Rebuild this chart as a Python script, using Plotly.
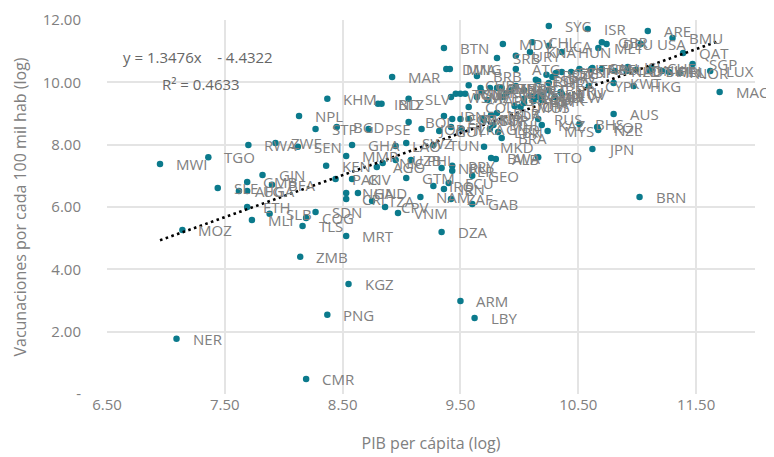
import plotly.graph_objects as go

# ---- data ----
countries = [
 "MWI","TGO","MOZ","NER","SLE","AFG","UGA","GMB","ETH","MLI","GIN","BFA","SLB","TLS","COG","SDN",
 "MRT","ZMB","KGZ","PNG","CMR","RWA","ZWE","SEN","NPL","KHM","STP","BGD","PSE","IND","BLZ","MAR",
 "SLV","BOL","BTN","DMA","MNG","GHA","MMR","KEN","LAO","SWZ","TUN","JOR","PAK","CIV","NGA","HND",
 "CRI","TZA","CPV","VNM","AGO","NIC","UZB","PHL","GTM","NAM","ZAF","GAB","IRN","IRQ","ECU","NRU",
 "PRY","PER","GEO","BWA","ALB","TTO","MKD","JPN","BRN","ARM","LBY","DZA","BRA","LBN","GNQ","SUR",
 "IDN","EGY","JAM","TKM","COL","GUY","FJI","LKA","DOM","MUS","THA","RUS","KAZ","MYS","AUS","BHS",
 "KOR","NZL","CYP","KWT","HKG","MAC","LUX","SGP","QAT","IRL","BMU","USA","ARE","ISR","SYC","CHL",
 "MDV","LCA","HUN","KNA","URY","SRB","MLT","GBR","DEU","ATG","BRB","ESP","PRT","GRC","CZE","SVN",
 "EST","ITA","FRA","BEL","NLD","AUT","DNK","SWE","FIN","NOR","CAN","ISL","CHE","POL","HRV","LTU",
 "LVA","ROU","MNE","BGR","CUB","PAN","CHN","MEX","TUR","GRD","VCT","SAU","OMN","BHR","WSM","TON",
 "FSM","VUT","UKR","MDA","BLR","BIH","SVK","PLW","TUV","AZE","ARG","VEN","KIR","MHL"
]
gdp_log = [
 6.95,7.36,7.14,7.09,7.44,7.62,7.69,7.69,7.69,7.73,7.82,7.90,7.88,8.16,8.19,8.27,
 8.53,8.14,8.55,8.37,8.19,7.70,7.93,8.12,8.13,8.37,8.27,8.45,8.72,8.80,8.83,8.92,
 9.06,9.06,9.36,9.38,9.41,8.58,8.53,8.36,8.95,9.04,9.27,9.17,8.44,8.58,8.53,8.63,
 8.53,8.75,8.86,8.97,8.79,8.84,8.95,9.08,9.04,9.16,9.42,9.60,9.36,9.27,9.40,9.34,
 9.43,9.43,9.60,9.76,9.80,10.16,9.70,10.62,11.02,9.50,9.62,9.34,9.85,9.82,9.75,9.70,
 9.36,9.43,9.50,9.57,9.57,9.32,9.42,9.51,9.96,10.01,10.04,10.16,10.19,10.24,10.80,10.51,
 10.66,10.67,10.59,10.80,10.97,11.70,11.62,11.47,11.39,11.27,11.30,11.03,11.09,10.58,10.25,10.11,
 9.86,10.25,10.36,10.09,9.97,9.81,10.67,10.70,10.74,9.97,9.64,10.14,10.23,10.28,10.31,10.36,
 10.44,10.51,10.61,10.70,10.81,10.91,10.99,11.11,11.21,11.36,10.62,10.92,11.12,10.16,10.25,10.35,
 10.19,10.04,9.89,9.93,9.57,9.67,9.75,9.81,9.85,9.97,10.04,10.15,10.10,10.25,9.42,9.46,
 9.50,9.54,9.68,9.76,9.81,10.12,10.19,10.30,10.36,9.64,9.73,9.86,9.69,9.78
]
vacc_log = [
 7.38,7.60,5.26,1.77,6.61,6.51,6.51,6.80,6.00,5.58,7.03,6.71,5.78,5.39,5.65,5.84,
 5.07,4.40,3.53,2.54,0.48,7.99,8.05,7.93,8.92,9.47,8.50,8.57,8.50,9.31,9.31,10.17,
 9.47,8.73,11.10,10.43,10.43,7.99,7.64,7.32,7.96,8.05,7.99,8.50,6.90,6.90,6.45,6.45,
 6.26,6.19,6.00,5.81,7.28,7.41,7.51,7.51,6.93,6.32,6.26,6.10,6.58,6.67,6.77,7.25,
 7.32,7.16,7.00,7.57,7.54,7.60,7.93,7.86,6.32,2.98,2.44,5.20,8.21,8.41,8.50,8.79,
 8.92,8.82,8.82,8.82,9.21,8.44,8.57,8.50,9.24,9.21,9.34,8.82,8.63,8.44,8.98,8.66,
 8.57,8.47,9.88,9.98,9.88,9.69,10.36,10.59,10.94,10.33,11.42,11.23,11.65,11.71,11.81,11.29,
 11.23,11.17,10.97,10.97,10.85,10.78,11.10,11.29,11.23,10.43,10.20,10.08,10.24,10.17,10.30,10.33,
 10.33,10.43,10.43,10.43,10.36,10.36,10.40,10.36,10.36,10.30,10.46,10.49,10.46,10.04,9.98,9.69,
 9.59,9.47,9.66,9.75,9.91,9.82,9.82,9.82,9.82,9.88,9.75,9.53,9.56,9.75,9.53,9.63,
 9.63,9.63,9.69,8.95,9.02,9.40,9.43,9.53,9.63,9.53,9.43,9.53,8.82,8.63
]

x_ticks = [6.5, 7.5, 8.5, 9.5, 10.5, 11.5]
x_tick_labels = ["6.50", "7.50", "8.50", "9.50", "10.50", "11.50"]
y_ticks = [0, 2, 4, 6, 8, 10, 12]
y_tick_labels = ["-", "2.00", "4.00", "6.00", "8.00", "10.00", "12.00"]

trend_slope = 1.3476
trend_intercept = -4.4322
trend_x = [min(gdp_log), max(gdp_log)]
trend_y = [trend_slope * v + trend_intercept for v in trend_x]

FONT = "Open Sans, Lato, sans-serif"
GREY = "#808080"
TEAL = "#0b7a8c"

fig = go.Figure()

fig.add_trace(go.Scatter(
    x=gdp_log, y=vacc_log, mode="markers",
    marker=dict(color=TEAL, size=6.5, line=dict(width=0)),
    hoverinfo="text", text=countries, showlegend=False,
))

fig.add_trace(go.Scatter(
    x=trend_x, y=trend_y, mode="lines",
    line=dict(color="black", width=2.6, dash="2.6px,3.4px"),
    hoverinfo="skip", showlegend=False,
))

annotations = []
for c, gx, vy in zip(countries, gdp_log, vacc_log):
    annotations.append(dict(
        x=gx, y=vy, text=c, showarrow=False, xanchor="left", yanchor="middle",
        xshift=14, font=dict(family=FONT, size=15, color=GREY),
    ))

annotations.append(dict(
    x=7.27, y=10.82, xref="x", yref="y", showarrow=False,
    text="y = 1.3476x    - 4.4322", font=dict(family=FONT, size=15, color="#666666"),
))
annotations.append(dict(
    x=7.30, y=9.96, xref="x", yref="y", showarrow=False,
    text="R² = 0.4633", font=dict(family=FONT, size=15, color="#666666"),
))

# the page body adds an 8px offset; compensate so the plot area sits where the reference has it
fig.update_layout(
    width=766, height=449,
    margin=dict(l=99, r=19, t=12, b=63, autoexpand=False),
    paper_bgcolor="white", plot_bgcolor="white",
    font=dict(family=FONT, color=GREY, size=15),
    annotations=annotations,
    xaxis=dict(
        range=[6.5, 12.0], tickvals=x_ticks, ticktext=x_tick_labels,
        showgrid=True, gridcolor="#e4e4e4", gridwidth=1.5,
        zeroline=False, showline=False, ticks="", automargin=False,
        tickfont=dict(family=FONT, size=15, color=GREY),
        title=dict(text="PIB per cápita (log)", font=dict(family=FONT, size=16, color=GREY), standoff=24),
    ),
    yaxis=dict(
        range=[0, 12], tickvals=y_ticks, ticktext=y_tick_labels,
        showgrid=True, gridcolor="#e4e4e4", gridwidth=1.5,
        zeroline=False, showline=False, ticks="outside", ticklen=22, tickcolor="rgba(0,0,0,0)",
        automargin=False,
        tickfont=dict(family=FONT, size=15, color=GREY),
        title=dict(text="Vacunaciones por cada 100 mil hab (log)", font=dict(family=FONT, size=16, color=GREY), standoff=12),
    ),
)

fig.write_html("out.html")
